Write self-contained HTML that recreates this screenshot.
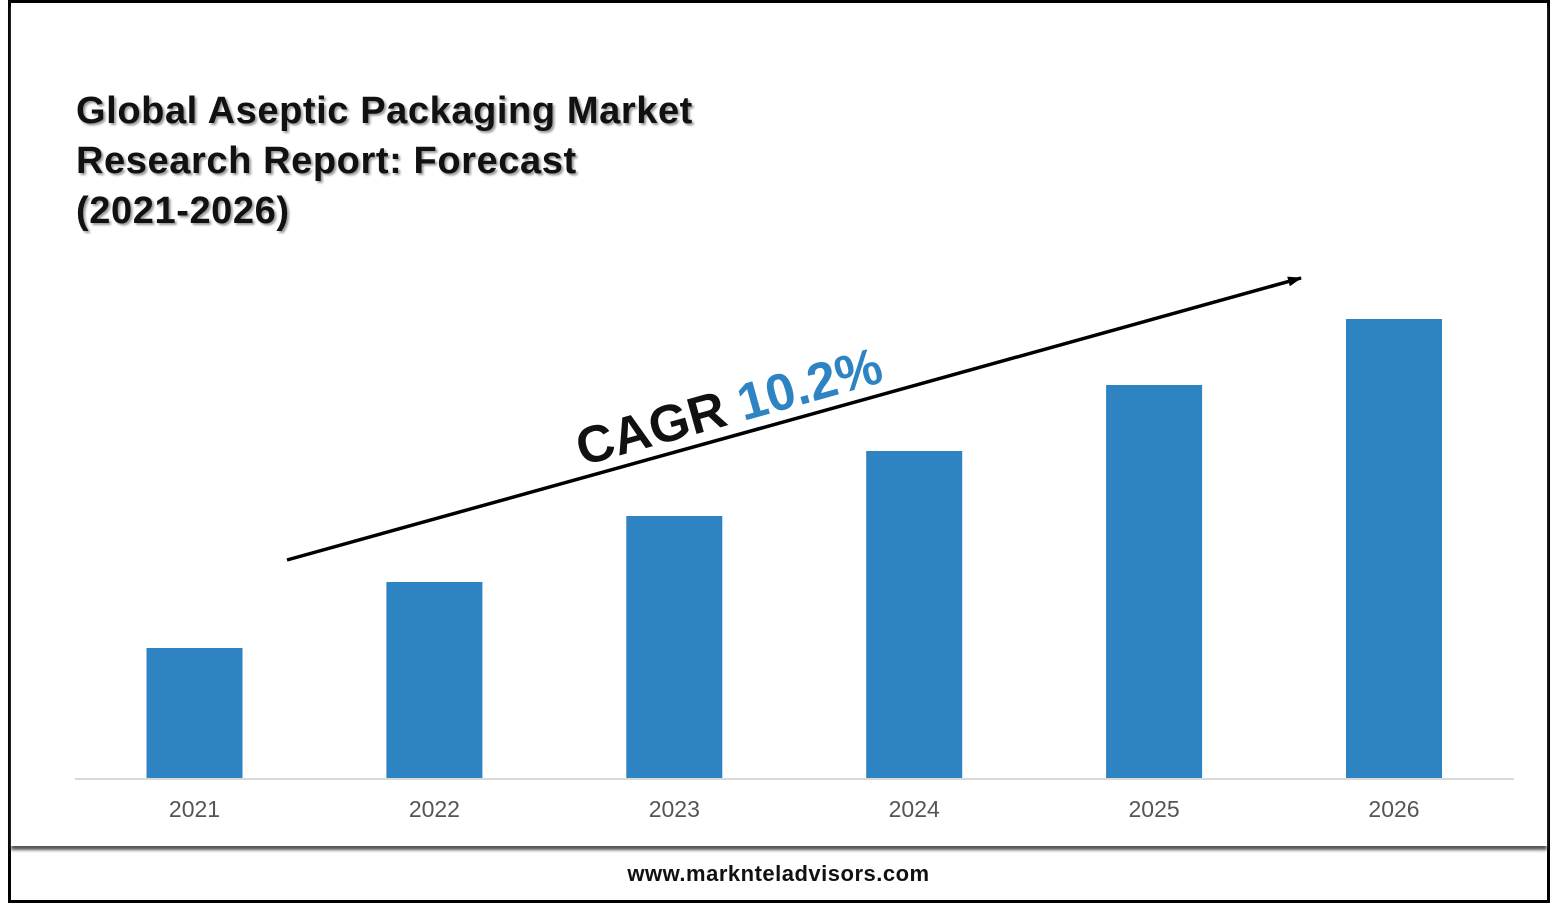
<!DOCTYPE html>
<html><head><meta charset="utf-8"><style>
body{margin:0;width:1557px;height:905px;background:#fff;font-family:"Liberation Sans",sans-serif;overflow:hidden;position:relative}
#outer{position:absolute;left:8px;top:0;width:1536px;height:897px;border:3px solid #000}
#panel{position:absolute;left:11px;top:3px;width:1536px;height:843px;background:#fff;box-shadow:0 4px 3px #555}
#title{position:absolute;left:76px;top:86px;font-size:38px;letter-spacing:0.6px;font-weight:bold;line-height:50px;color:#111;text-shadow:2px 2px 2px #999}
#url{position:absolute;left:0;width:1557px;top:861px;text-align:center;font-weight:bold;font-size:22px;letter-spacing:0.5px;color:#111}
svg{position:absolute;left:0;top:0}
</style></head><body>
<div id="outer"></div>
<div id="panel"></div>
<div id="title">Global Aseptic Packaging Market<br>Research Report: Forecast<br>(2021-2026)</div>
<svg id="chart" width="1557" height="905">
<defs><marker id="ah" markerUnits="userSpaceOnUse" markerWidth="14" markerHeight="10" refX="13" refY="5" orient="auto"><path d="M0,0 L14,5 L0,10 z" fill="#000"/></marker></defs>
<line x1="75" y1="779" x2="1514" y2="779" stroke="#d9d9d9" stroke-width="2"/>
<g id="bars"></g><g id="labels"></g>
<line x1="287" y1="560" x2="1301" y2="278" stroke="#000" stroke-width="3.5" marker-end="url(#ah)"/>
<text transform="translate(582,466) rotate(-15.6)" font-size="52" font-weight="bold" fill="#111">CAGR <tspan fill="#2e83c3">10.2%</tspan></text>
</svg>
<div id="url">www.marknteladvisors.com</div>
<script>
const categories=["2021","2022","2023","2024","2025","2026"];
const values=[1.30,1.96,2.62,3.27,3.93,4.59];
const y=v=>778-v*100;
const x=i=>194.5+i*239.9;
const ns="http://www.w3.org/2000/svg";
const gb=document.getElementById('bars'),gl=document.getElementById('labels');
categories.forEach((c,i)=>{
 const r=document.createElementNS(ns,'rect');
 r.setAttribute('x',x(i)-48);r.setAttribute('width',96);
 r.setAttribute('y',y(values[i]));r.setAttribute('height',778-y(values[i]));
 r.setAttribute('fill','#2e83c3');
 
 
 gb.appendChild(r);
 const t=document.createElementNS(ns,'text');
 t.setAttribute('x',x(i));t.setAttribute('y',817);t.setAttribute('text-anchor','middle');
 t.setAttribute('font-size','23');t.setAttribute('fill','#555');t.textContent=c;
 
 
 gl.appendChild(t);
});
</script>
</body></html>
